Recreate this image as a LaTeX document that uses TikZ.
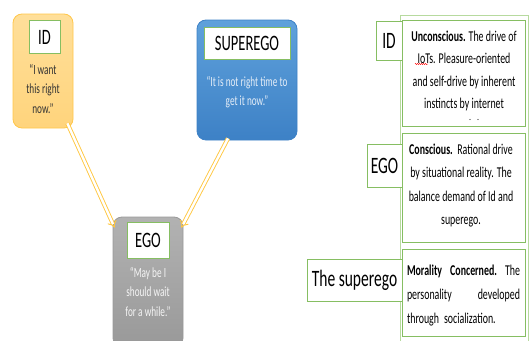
\documentclass[tikz,border=0pt]{standalone}
\usepackage{fontspec}
\setmainfont{Carlito}[FakeStretch=0.66]
\usetikzlibrary{arrows.meta,decorations.pathmorphing}

\definecolor{idTop}{HTML}{FFDF9A}
\definecolor{idBot}{HTML}{FFD47C}
\definecolor{idEdge}{HTML}{FFC74A}
\definecolor{supTop}{HTML}{5FA1DB}
\definecolor{supBot}{HTML}{3D81C6}
\definecolor{egoTop}{HTML}{B2B2B2}
\definecolor{egoBot}{HTML}{999999}
\definecolor{tagGreen}{HTML}{86BE62}
\definecolor{frameGreen}{HTML}{B7DA9F}
\definecolor{arrowYellow}{HTML}{FFC73F}
\definecolor{darkText}{HTML}{333333}
\definecolor{paleText}{HTML}{E4EDF7}

\begin{document}
\begin{tikzpicture}[x=1pt,y=-1pt,
  card/.style={rounded corners=9pt, inner sep=0pt, line width=0.8pt},
  tag/.style={draw=tagGreen, fill=white, line width=0.9pt, inner sep=0pt,
    font=\fontsize{22}{24}\selectfont},
  rtag/.style={tag, font=\fontsize{23.5}{26}\selectfont},
  quote/.style={align=center, inner sep=0pt, font=\fontsize{14}{19.5}\selectfont},
  note/.style={align=center, inner sep=0pt, text=black},
  cell/.style={draw=tagGreen, line width=0.9pt, inner sep=0pt, minimum width=123pt},
  flow/.style={draw=arrowYellow, line width=0.9pt, double=white,
    double distance=2.4pt, -{Implies}},
]
\useasboundingbox (0,0) rectangle (529,340);

% --- left: the three personality cards ---
\node[card, draw=idEdge, top color=idTop, bottom color=idBot,
      minimum width=60pt, minimum height=114pt] (idbox) at (43,71) {};
\node[tag, minimum width=31pt, minimum height=33pt] (idtag) at (44.5,37) {ID};
\node[quote, text=darkText] (idtext) at (43,89) {“I want\\this right\\now.”};

\node[card, draw=supBot, top color=supTop, bottom color=supBot,
      minimum width=100pt, minimum height=120pt] (supbox) at (247,80) {};
\node[tag, minimum width=86pt, minimum height=32pt] (suptag) at (247,43) {SUPEREGO};
\node[quote, text=paleText] (suptext) at (247,92) {“It is not right time to\\get it now.”};

\node[card, draw=egoBot, top color=egoTop, bottom color=egoBot,
      minimum width=70pt, minimum height=130pt] (egobox) at (148,282) {};
\node[tag, minimum width=42pt, minimum height=36pt] (egotag) at (148,240) {EGO};
\node[quote, text=white!92!gray] (egotext) at (148,292) {“May be I\\should wait\\for a while.”};

\draw[flow] ([shift={(-6,-5)}]idbox.south east) -- ([shift={(2,11)}]egobox.north west);
\draw[flow] ([shift={(-19,-2)}]supbox.south) -- ([shift={(-2,11)}]egobox.north east);

% --- right: description table ---
\node[draw=frameGreen, line width=0.9pt, minimum width=128pt, minimum height=330pt,
      inner sep=0pt] (frame) at (464,180) {};

\node[cell, minimum height=106pt] (cellid) at (463.5,73) {};
\node[cell, minimum height=109pt] (cellego) at (463.5,187.5) {};
\node[cell, minimum height=87pt] (cellsup) at (463.5,292.5) {};

\node[rtag, minimum width=26pt, minimum height=39pt] (rid) at (389,41) {ID};
\node[rtag, minimum width=35pt, minimum height=43pt] (rego) at (384.5,165.5) {EGO};
\node[rtag, minimum width=95pt, minimum height=42pt] (rsup) at (354.5,280) {The superego};

\node[note, font=\fontsize{15}{22.5}\selectfont] (idnote) at (464,71)
  {\textbf{Unconscious.} The drive of\\IoTs. Pleasure-oriented\\and self-drive by inherent\\instincts by internet};
\fill[darkText] (470,119.5) circle (0.6) (478,119.5) circle (0.6);
\draw[red, line width=0.4pt, decorate,
      decoration={snake, amplitude=0.6pt, segment length=2pt}]
  (415,64) -- (428,64);

\node[note, font=\fontsize{15}{23.3}\selectfont] (egonote) at (461,185.5)
  {\textbf{Conscious.}\ \ Rational drive\\by situational reality. The\\balance demand of Id and\\superego.};

% justified cell text: the first two lines run the full width
\node[note, align=left, text width=113pt, font=\fontsize{15}{24}\selectfont] (supnote) at (463.5,296)
  {\makebox[113pt]{\textbf{Morality}\hfill\textbf{Concerned.}\hfill The}\\
   \makebox[113pt]{personality\hfill developed}\\
   through socialization.};
\end{tikzpicture}
\end{document}
